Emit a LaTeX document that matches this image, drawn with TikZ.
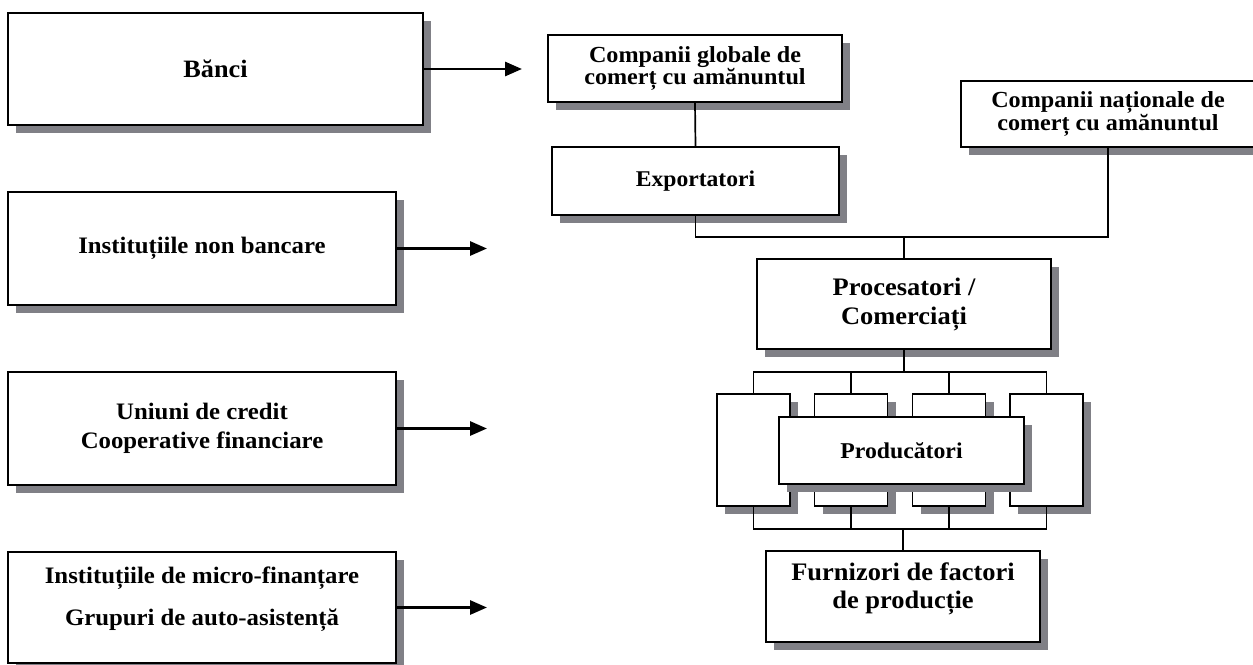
\documentclass[tikz,border=0pt]{standalone}
\usepackage{fontspec}
\newfontfamily\lbl{Liberation Serif}[FakeStretch=1.05]
\usetikzlibrary{shadows,arrows.meta}
\newcommand\fsz[2]{\fontsize{#1pt}{#2pt}\selectfont}
\definecolor{shgray}{RGB}{128,128,134}
\begin{document}
\begin{tikzpicture}[x=1pt,y=-1pt,
  box/.style={draw, line width=1.9pt, fill=white, inner sep=0pt, align=center,
    drop shadow={shadow xshift=8pt, shadow yshift=-8pt, fill=shgray, opacity=1}},
  txt/.style={align=center, inner sep=0pt},
  link/.style={line width=1.7pt},
  feed/.style={line width=2.9pt, -{Triangle[length=17pt,width=14pt]}},
]
\useasboundingbox (0,0) rectangle (1253,664);

% financing institutions (left column)
\node[box, minimum width=415pt, minimum height=112pt, font={\lbl\bfseries\fsz{25}{29}}]
  (banci) at (215.5,69) {Bănci};
\node[box, minimum width=388pt, minimum height=113pt, font={\lbl\bfseries\fsz{23.6}{29}}]
  (nonb) at (202,248.5) {Instituțiile non bancare};
\node[box, minimum width=388pt, minimum height=113pt, font={\lbl\bfseries\fsz{23.6}{29}}]
  (coop) at (202,428.5) {Uniuni de credit\\Cooperative financiare};
\node[box, minimum width=388pt, minimum height=111pt] (micro) at (202,607.5) {};
\node[txt, font={\lbl\bfseries\fsz{23.6}{42}}] (microtxt) at (202,599)
  {Instituțiile de micro-finanțare\\Grupuri de auto-asistență};

% free ends of the arrows
\coordinate (fa) at (522,69);
\coordinate (fb) at (487,248.5);
\coordinate (fc) at (487,428.5);
\coordinate (fd) at (487,607.5);

% value chain (right column)
\node[box, minimum width=294pt, minimum height=67pt, font={\lbl\bfseries\fsz{23}{22}}]
  (glob) at (695,68.5) {Companii globale de\\comerț cu amănuntul};
\node[box, minimum width=287pt, minimum height=68pt, font={\lbl\bfseries\fsz{22.5}{26}}]
  (exp) at (695.5,181) {Exportatori};
\node[box, minimum width=294pt, minimum height=66pt, font={\lbl\bfseries\fsz{23}{22}}]
  (nat) at (1108,114) {Companii naționale de\\comerț cu amănuntul};
\node[box, minimum width=294pt, minimum height=90pt, font={\lbl\bfseries\fsz{25.2}{29}}]
  (proc) at (904,304) {Procesatori /\\Comerciați};

\foreach \n/\cx in {s1/753.5, s2/851, s3/949, s4/1046.5}
  \node[box, minimum width=73pt, minimum height=112pt] (\n) at (\cx,450) {};
\node[box, minimum width=245pt, minimum height=67pt, font={\lbl\bfseries\fsz{22.6}{26}}]
  (prod) at (901.5,450.5) {Producători};

\node[box, minimum width=274pt, minimum height=91pt] (furn) at (903,596.5) {};
\node[txt, font={\lbl\bfseries\fsz{25.2}{28}}] (furntxt) at (903,589)
  {Furnizori de factori\\de producție};

% junction points of the connector buses
\coordinate (busA) at (904,237);
\coordinate (busB) at (904,372);
\coordinate (busC) at (903,529);

% connectors
\draw[link] (glob.south) -- (exp.north);
\draw[link] (exp.south) |- (busA) -| (nat.south);
\draw[link] (busA) -- (proc.north);
\draw[link] (proc.south) -- (busB);
\draw[link] (s1.north) |- (busB) -| (s4.north);
\draw[link] (s2.north) -- (s2.north |- busB);
\draw[link] (s3.north) -- (s3.north |- busB);
\draw[link] (s1.south) |- (busC) -| (s4.south);
\draw[link] (s2.south) -- (s2.south |- busC);
\draw[link] (s3.south) -- (s3.south |- busC);
\draw[link] (busC) -- (furn.north);

% financing arrows
\draw[feed] (banci.east) -- (fa);
\draw[feed] (nonb.east) -- (fb);
\draw[feed] (coop.east) -- (fc);
\draw[feed] (micro.east) -- (fd);
\end{tikzpicture}
\end{document}
